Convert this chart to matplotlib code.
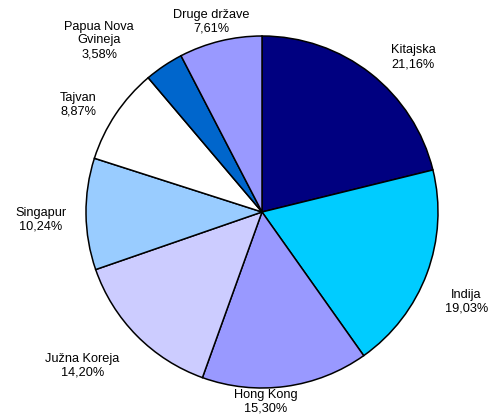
import matplotlib.pyplot as plt

plt.rcParams["font.family"] = ["Liberation Sans", "DejaVu Sans"]

countries = ["Kitajska", "Indija", "Hong Kong", "Južna Koreja", "Singapur",
             "Tajvan", "Papua Nova\nGvineja", "Druge države"]
shares = [21.16, 19.03, 15.30, 14.20, 10.24, 8.87, 3.58, 7.61]
colors = ["#000080", "#00CCFF", "#9999FF", "#CCCCFF", "#99CCFF",
          "#FFFFFF", "#0066CC", "#9999FF"]

# label positions in units of the pie radius
label_pos = [(0.86, 0.88), (1.16, -0.51), (0.02, -1.08), (-1.02, -0.875),
             (-1.255, -0.045), (-1.045, 0.61), (-0.925, 0.975), (-0.29, 1.08)]

fig = plt.figure(figsize=(4.91, 4.20), dpi=100)
ax = fig.add_axes([0, 0, 1, 1])
ax.pie(shares, colors=colors, startangle=90, counterclock=False,
       wedgeprops=dict(edgecolor="black", linewidth=1.1))

for name, val, (x, y) in zip(countries, shares, label_pos):
    txt = f"{name}\n{val:.2f}%".replace(".", ",")
    ax.text(x, y, txt, ha="center", va="center", fontsize=9.2, linespacing=1.2)

ax.set_xlim(-262 / 176, 229 / 176)
ax.set_ylim(-208 / 176, 212 / 176)
ax.set_aspect("auto")
ax.axis("off")
fig.savefig("out.png", dpi=100)
